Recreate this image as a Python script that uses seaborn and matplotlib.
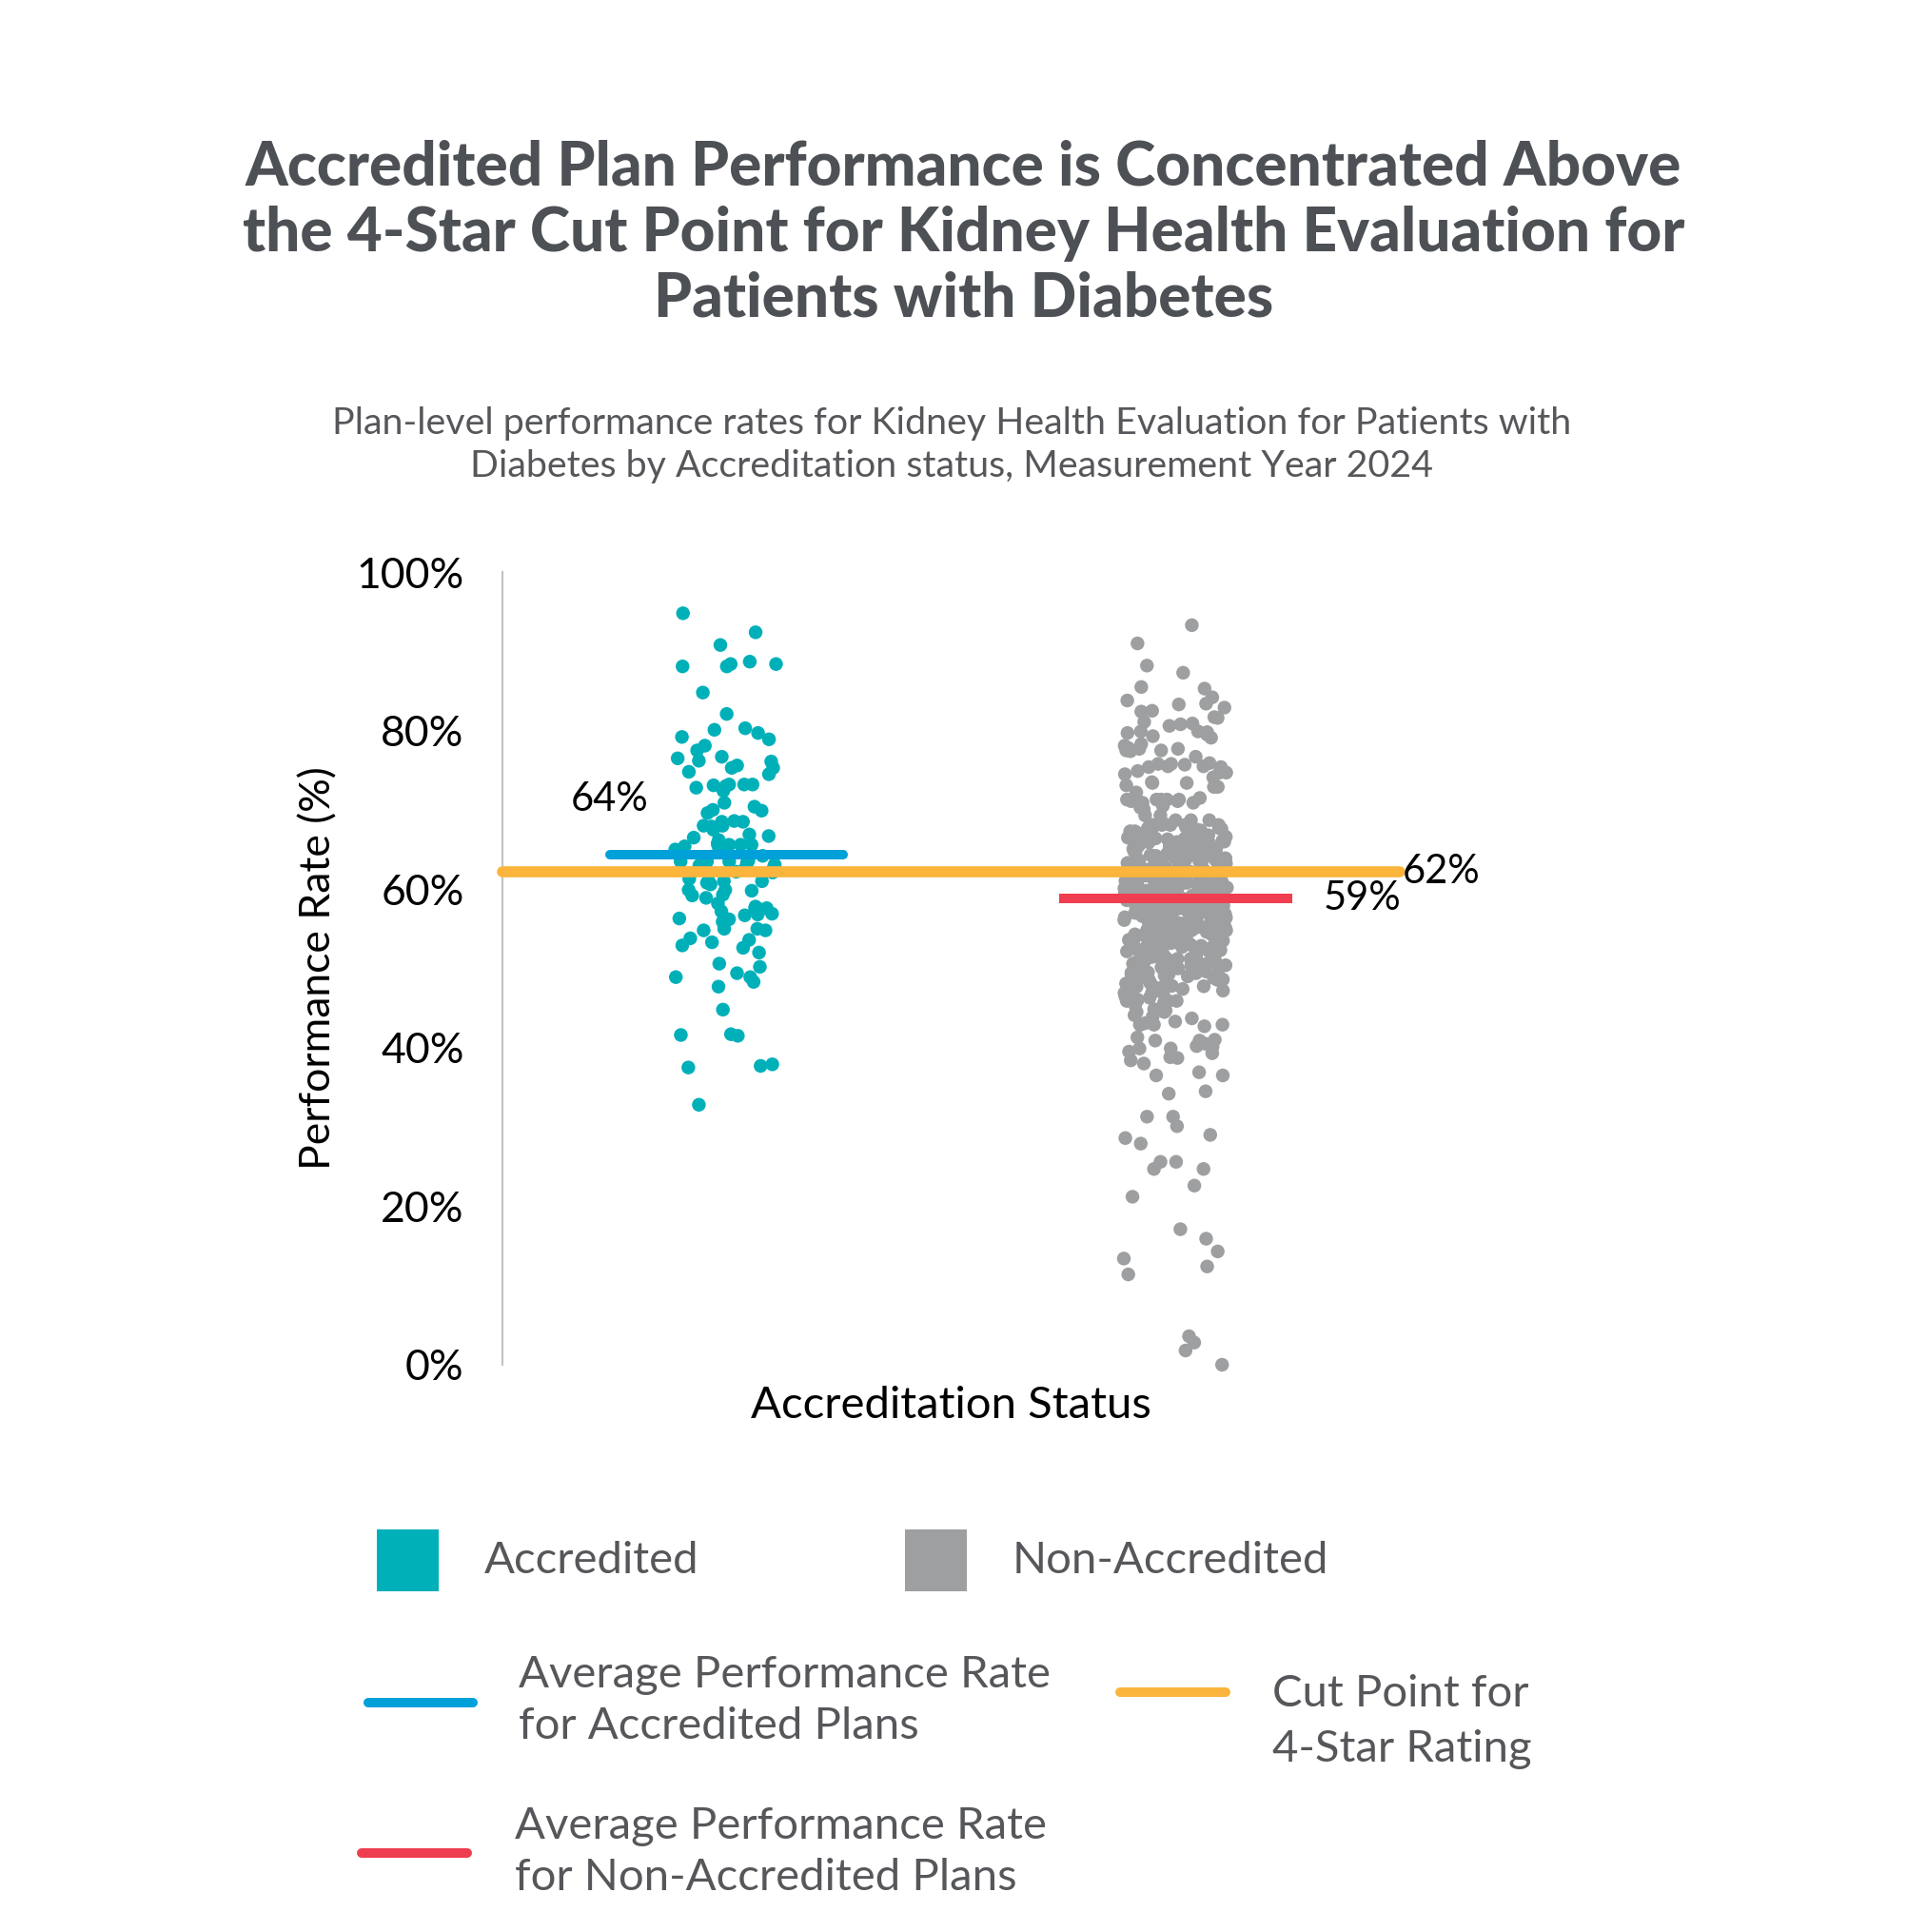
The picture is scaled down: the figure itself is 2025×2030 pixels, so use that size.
import numpy as np
import pandas as pd
import matplotlib
matplotlib.use("Agg")
import matplotlib.pyplot as plt
from matplotlib.patches import Rectangle
from matplotlib.lines import Line2D
import seaborn as sns

# ---- data ----
categories = ["Accredited", "Non-Accredited"]

accredited_rates = [
    94.8, 92.4, 90.8, 88.7, 88.4, 88.4, 88.1, 88.1, 84.8, 82.1,
    80.3, 79.7, 80.1, 79.2, 78.1, 78.9, 77.5, 76.7, 76.1, 76.5,
    75.6, 75.3, 76.2, 75.3, 74.5, 74.8, 73.2, 73.2, 73.2, 72.4,
    72.8, 73.0, 73.1, 70.9, 70.0, 69.9, 70.4, 69.6, 68.6, 68.0,
    68.5, 67.9, 68.5, 67.5, 68.0, 66.9, 65.8, 66.7, 66.5, 65.6,
    66.2, 65.2, 65.6, 65.6, 65.6, 65.0, 65.4,
    63.6, 63.5, 63.3, 62.7, 62.7, 63.5, 63.5, 62.2, 63.0, 63.1, 62.1, 64.2,
    61.0, 61.0, 59.9, 60.8, 59.3, 59.8, 59.9, 61.3, 60.6, 61.0,
    58.9, 59.2, 58.2, 57.2, 57.6, 57.6, 56.2, 55.9, 57.8, 57.6,
    56.7, 56.8, 56.9, 56.3, 54.8, 54.8, 55.0, 55.0, 53.6, 53.8,
    52.6, 52.9, 53.3, 52.0, 50.6, 49.4, 48.9, 50.2, 48.3, 48.9,
    47.7, 44.8, 41.6, 41.7, 41.5, 37.7, 37.9, 37.5, 32.8,
]

nonacc_upper = [
    93.3, 91.0, 88.2, 87.3, 85.5, 85.3, 84.2, 83.8, 83.3, 83.4,
    82.9, 82.5, 82.4, 81.7, 81.6, 81.1, 80.6, 79.9, 79.1, 78.3,
    80.9, 79.8, 80.8, 79.9, 79.7, 79.3, 79.5, 77.8, 78.1, 77.5,
    77.4, 77.7, 77.5, 77.7, 76.7, 75.5, 74.9, 75.8, 75.7, 75.4,
    74.7, 75.4, 74.5, 75.9, 74.7, 75.8, 75.5, 74.1, 73.4, 72.9,
    73.1, 73.5, 73.4, 72.2, 72.9, 71.3, 70.9, 71.1, 71.3, 71.3,
    70.9, 71.1, 71.3, 71.3, 71.5, 70.3, 70.1, 69.3, 70.5, 69.3,
    68.1, 68.7, 67.3, 68.1, 67.7, 68.1, 68.1, 68.7, 67.7, 68.3,
    68.7, 68.1,
]

nonacc_core = [
    67.1, 67.3, 67.4, 67.6, 67.8, 67.9, 67.2, 67.5, 67.7, 67.0,
    66.0, 66.1, 66.3, 66.4, 66.5, 66.6, 66.8, 66.9, 66.2, 66.7, 66.4, 66.9,
    65.0, 65.1, 65.2, 65.3, 65.4, 65.5, 65.6, 65.7, 65.8, 65.9, 65.2, 65.5, 65.8, 65.3,
    64.0, 64.1, 64.2, 64.3, 64.4, 64.5, 64.6, 64.7, 64.8, 64.9, 64.2, 64.4, 64.6, 64.8, 64.1,
    63.0, 63.1, 63.2, 63.3, 63.4, 63.5, 63.6, 63.7, 63.8, 63.9, 63.1, 63.3, 63.5, 63.6, 63.8, 63.9,
    62.0, 62.1, 62.2, 62.3, 62.4, 62.5, 62.6, 62.7, 62.8, 62.9, 62.1, 62.3, 62.4, 62.6, 62.7, 62.9, 62.5,
    61.0, 61.1, 61.2, 61.3, 61.4, 61.5, 61.6, 61.7, 61.8, 61.9, 61.0, 61.2, 61.4, 61.5, 61.7, 61.8, 61.3,
    60.0, 60.1, 60.2, 60.3, 60.4, 60.5, 60.6, 60.7, 60.8, 60.9, 60.1, 60.2, 60.4, 60.5, 60.6, 60.8, 60.9, 60.3,
    59.0, 59.1, 59.2, 59.3, 59.4, 59.5, 59.6, 59.7, 59.8, 59.9, 59.0, 59.2, 59.3, 59.5, 59.6, 59.8, 59.9, 59.4,
    58.0, 58.1, 58.2, 58.3, 58.4, 58.5, 58.6, 58.7, 58.8, 58.9, 58.1, 58.2, 58.4, 58.5, 58.6, 58.8, 58.9, 58.3,
    57.0, 57.1, 57.2, 57.3, 57.4, 57.5, 57.6, 57.7, 57.8, 57.9, 57.1, 57.3, 57.4, 57.6, 57.7, 57.9, 57.5,
    56.0, 56.1, 56.2, 56.3, 56.4, 56.5, 56.6, 56.7, 56.8, 56.9, 56.0, 56.2, 56.3, 56.5, 56.6, 56.8, 56.4,
    55.0, 55.1, 55.2, 55.3, 55.4, 55.5, 55.6, 55.7, 55.8, 55.9, 55.1, 55.3, 55.5, 55.6, 55.8, 55.2,
    54.0, 54.1, 54.2, 54.3, 54.4, 54.5, 54.6, 54.7, 54.8, 54.9, 54.2, 54.4, 54.6, 54.8, 54.3,
    53.0, 53.1, 53.2, 53.3, 53.4, 53.5, 53.6, 53.7, 53.8, 53.9, 53.2, 53.5, 53.7, 53.4,
    52.0, 52.1, 52.2, 52.3, 52.4, 52.5, 52.6, 52.7, 52.8, 52.9, 52.3, 52.6, 52.8,
    51.0, 51.1, 51.2, 51.4, 51.5, 51.6, 51.7, 51.8, 51.9, 51.3, 51.6, 51.2,
    50.0, 50.2, 50.3, 50.4, 50.5, 50.7, 50.8, 50.9, 50.1, 50.6,
    49.1, 49.3, 49.5, 49.6, 49.8, 49.9, 49.2, 49.7,
    48.1, 48.3, 48.4, 48.6, 48.7, 48.9, 48.2,
    47.2, 47.4, 47.6, 47.8, 47.9,
]

# second pass over the solid middle band, where points pile on top of each other
nonacc_core_dense = [
    66.25, 65.45, 65.95, 64.35, 64.75, 64.05, 63.25, 63.65, 63.95, 62.15,
    62.55, 62.85, 61.15, 61.45, 61.85, 61.05, 60.25, 60.65, 60.95, 60.45,
    59.15, 59.55, 59.85, 59.35, 58.05, 58.45, 58.75, 58.25, 57.15, 57.55,
    57.85, 57.35, 56.05, 56.45, 56.85, 56.25, 55.15, 55.55, 55.85, 55.35,
    54.15, 54.55, 54.85, 53.25, 53.65, 53.95, 52.15, 52.55, 52.85, 51.45,
    51.85, 51.05, 50.35, 50.75, 49.45, 49.85, 48.55, 48.95, 47.35, 47.75,
    46.45, 46.05, 45.35, 44.85, 45.65,
]

nonacc_lower = [
    49.3, 49.3, 47.7, 46.9, 46.9, 45.9, 45.9, 45.9, 46.3, 46.9,
    44.1, 43.7, 44.5, 42.9, 43.3, 43.1, 42.9, 44.5, 42.7, 43.9,
    42.9, 44.7, 42.9, 40.2, 40.9, 41.0, 41.3, 40.5, 40.1, 40.9,
    39.9, 49.0, 48.5, 48.8, 49.4,
]

nonacc_tail = [
    39.3, 38.8, 38.7, 38.0, 36.5, 36.9, 36.5, 39.9, 39.5, 38.4,
    34.2, 34.5, 31.3, 31.3, 30.1, 29.0, 27.9, 28.6, 25.6, 25.6,
    24.7, 24.7, 22.6, 21.2, 17.1, 15.9, 14.3, 13.4, 12.4, 11.4,
    2.8, 1.8, 0.0, 3.6,
]

nonaccredited_rates = (nonacc_upper + nonacc_core + nonacc_core_dense
                       + nonacc_lower + nonacc_tail)

avg_accredited = 64.4
avg_nonaccredited = 58.8
cut_point_4star = 62.2
line_labels = ["64%", "59%", "62%"]
y_ticks = [0, 20, 40, 60, 80, 100]

TEAL = "#00b0b9"
GRAY = "#9d9fa0"
BLUE = "#00a0d9"
RED = "#ef3e4f"
YELLOW = "#fbb43c"
TEXT_DARK = "#4d5054"
TEXT_GRAY = "#55575a"

df = pd.DataFrame({
    "status": ["Accredited"] * len(accredited_rates) + ["Non-Accredited"] * len(nonaccredited_rates),
    "rate": accredited_rates + nonaccredited_rates,
})

sns.set_style("white")
plt.rcParams["font.family"] = ["Lato", "DejaVu Sans"]

fig = plt.figure(figsize=(20.25, 20.30), dpi=100)
ax = fig.add_axes([0.2607, 0.2936, 0.4657, 0.4103])

np.random.seed(7)
sns.stripplot(data=df, x="status", y="rate", hue="status", order=categories,
              palette={"Accredited": TEAL, "Non-Accredited": GRAY},
              jitter=0.115, size=10.4, linewidth=0, legend=False,
              clip_on=False, zorder=2, ax=ax)

# average lines and cut point
ax.plot([-0.26, 0.26], [avg_accredited] * 2, color=BLUE, lw=7.2,
        solid_capstyle="round", zorder=4)
ax.plot([0.74, 1.26], [avg_nonaccredited] * 2, color=RED, lw=7.2,
        solid_capstyle="butt", zorder=4)
ax.plot([-0.5, 1.5], [cut_point_4star] * 2, color=YELLOW, lw=8.4,
        solid_capstyle="round", zorder=3, clip_on=False)

ax.text(-0.26, 71.3, line_labels[0], fontsize=30, color="black", ha="center", va="center")
ax.text(1.33, avg_nonaccredited, line_labels[1], fontsize=30, color="black", ha="left", va="center")
ax.text(1.505, cut_point_4star, line_labels[2], fontsize=30, color="black", ha="left", va="center")

ax.set_xlim(-0.5, 1.5)
ax.set_ylim(0, 100)
ax.set_yticks(y_ticks)
ax.set_yticklabels([f"{t}%" for t in y_ticks], fontsize=32, color="black")
ax.set_xticks([])
ax.tick_params(axis="y", length=0, pad=29)
for side in ["top", "right", "bottom"]:
    ax.spines[side].set_visible(False)
ax.spines["left"].set_color("#c4c4c4")
ax.spines["left"].set_linewidth(1.6)

ax.set_xlabel("Accreditation Status", fontsize=34, color="black")
ax.xaxis.label.set_va("center")
ax.xaxis.set_label_coords(0.5, -0.052)
ax.set_ylabel("Performance Rate (%)", fontsize=32, color="black")
ax.yaxis.label.set_va("center")
ax.yaxis.set_label_coords(-0.205, 0.5)

# title and subtitle
fig.text(0.5, 0.8793,
         "Accredited Plan Performance is Concentrated Above\n"
         "the 4-Star Cut Point for Kidney Health Evaluation for\n"
         "Patients with Diabetes",
         ha="center", va="center", fontsize=46, fontweight="black",
         color=TEXT_DARK, linespacing=1.2)
fig.text(0.494, 0.7697,
         "Plan-level performance rates for Kidney Health Evaluation for Patients with\n"
         "Diabetes by Accreditation status, Measurement Year 2024",
         ha="center", va="center", fontsize=28.4, color=TEXT_GRAY, linespacing=1.3)

# legend drawn in figure coordinates
fig.add_artist(Rectangle((0.1956, 0.1764), 0.0321, 0.0320, transform=fig.transFigure,
                         facecolor=TEAL, edgecolor="none"))
fig.text(0.2514, 0.1921, "Accredited", fontsize=34, color=TEXT_GRAY, va="center", ha="left")
fig.add_artist(Rectangle((0.4696, 0.1764), 0.0321, 0.0320, transform=fig.transFigure,
                         facecolor=GRAY, edgecolor="none"))
fig.text(0.5254, 0.1921, "Non-Accredited", fontsize=34, color=TEXT_GRAY, va="center", ha="left")

fig.add_artist(Line2D([0.1911, 0.2454], [0.1187, 0.1187], transform=fig.transFigure,
                      color=BLUE, lw=7.2))
fig.text(0.2691, 0.1195, "Average Performance Rate\nfor Accredited Plans",
         fontsize=34, color=TEXT_GRAY, va="center", ha="left", linespacing=1.35)
fig.add_artist(Line2D([0.5812, 0.6360], [0.1241, 0.1241], transform=fig.transFigure,
                      color=YELLOW, lw=7.2))
fig.text(0.6602, 0.1089, "Cut Point for\n4-Star Rating",
         fontsize=34, color=TEXT_GRAY, va="center", ha="left", linespacing=1.45)
fig.add_artist(Line2D([0.1877, 0.2425], [0.0409, 0.0409], transform=fig.transFigure,
                      color=RED, lw=7.2))
fig.text(0.2672, 0.0414, "Average Performance Rate\nfor Non-Accredited Plans",
         fontsize=34, color=TEXT_GRAY, va="center", ha="left", linespacing=1.35)

fig.savefig("out.png", dpi=100, facecolor="white")
